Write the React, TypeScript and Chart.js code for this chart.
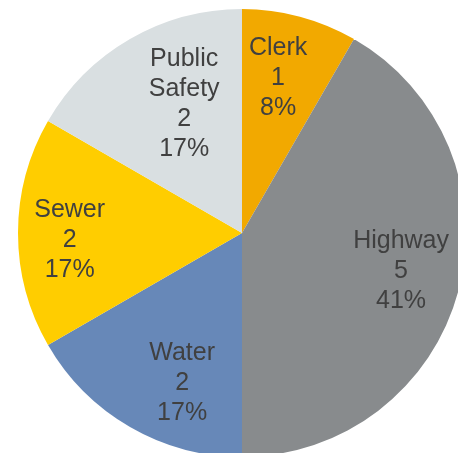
import React, { useEffect, useRef } from "react";
import { Chart, registerables } from "chart.js";

Chart.register(...registerables);

const categories = ["Clerk", "Highway", "Water", "Sewer", "Public Safety"];
const values = [1, 5, 2, 2, 2];
const percentLabels = ["8%", "41%", "17%", "17%", "17%"];
const colors = ["#F2A900", "#888B8D", "#6788B8", "#FFCD00", "#D9DFE1"];
// label placement style: [radius fraction, angle nudge in degrees]
const labelPlacement: [number, number][] = [
  [0.71, -1.9],
  [0.73, -1.6],
  [0.72, -8.2],
  [0.77, -2.3],
  [0.63, 5.8],
];

const labelPlugin = {
  id: "sliceLabels",
  afterDatasetsDraw(chart: any) {
    const ctx = chart.ctx;
    const meta = chart.getDatasetMeta(0);
    ctx.save();
    ctx.fillStyle = "#404040";
    ctx.font = "25px 'Liberation Sans', Arial, sans-serif";
    ctx.textAlign = "center";
    ctx.textBaseline = "middle";
    const lineH = 30;
    meta.data.forEach((arc: any, i: number) => {
      const p = arc.getProps(["x", "y", "startAngle", "endAngle", "outerRadius"], true);
      const [frac, nudge] = labelPlacement[i];
      const a = (p.startAngle + p.endAngle) / 2 + (nudge * Math.PI) / 180;
      const r = p.outerRadius * frac;
      const cx = p.x + r * Math.cos(a);
      const cy = p.y + r * Math.sin(a);
      const lines = [...categories[i].split(" "), String(values[i]), percentLabels[i]];
      const top = cy - ((lines.length - 1) * lineH) / 2;
      lines.forEach((t, k) => ctx.fillText(t, cx, top + k * lineH));
    });
    ctx.restore();
  },
};

export default function App() {
  const ref = useRef<HTMLCanvasElement | null>(null);
  useEffect(() => {
    if (!ref.current) return;
    const chart = new Chart(ref.current, {
      type: "pie",
      data: {
        labels: categories,
        datasets: [
          {
            data: values,
            backgroundColor: colors,
            borderWidth: 0,
            hoverOffset: 0,
          },
        ],
      },
      options: {
        responsive: false,
        animation: false,
        layout: { padding: 0 },
        plugins: {
          legend: { display: false },
          tooltip: { enabled: false },
        },
      },
      plugins: [labelPlugin],
    });
    return () => chart.destroy();
  }, []);
  return (
    <div
      style={{
        position: "fixed",
        left: 0,
        top: 0,
        width: 458,
        height: 453,
        overflow: "hidden",
        background: "#fff",
      }}
    >
      <canvas
        ref={ref}
        width={448}
        height={448}
        style={{ position: "absolute", left: 18, top: 9, width: 448, height: 448 }}
      />
    </div>
  );
}
